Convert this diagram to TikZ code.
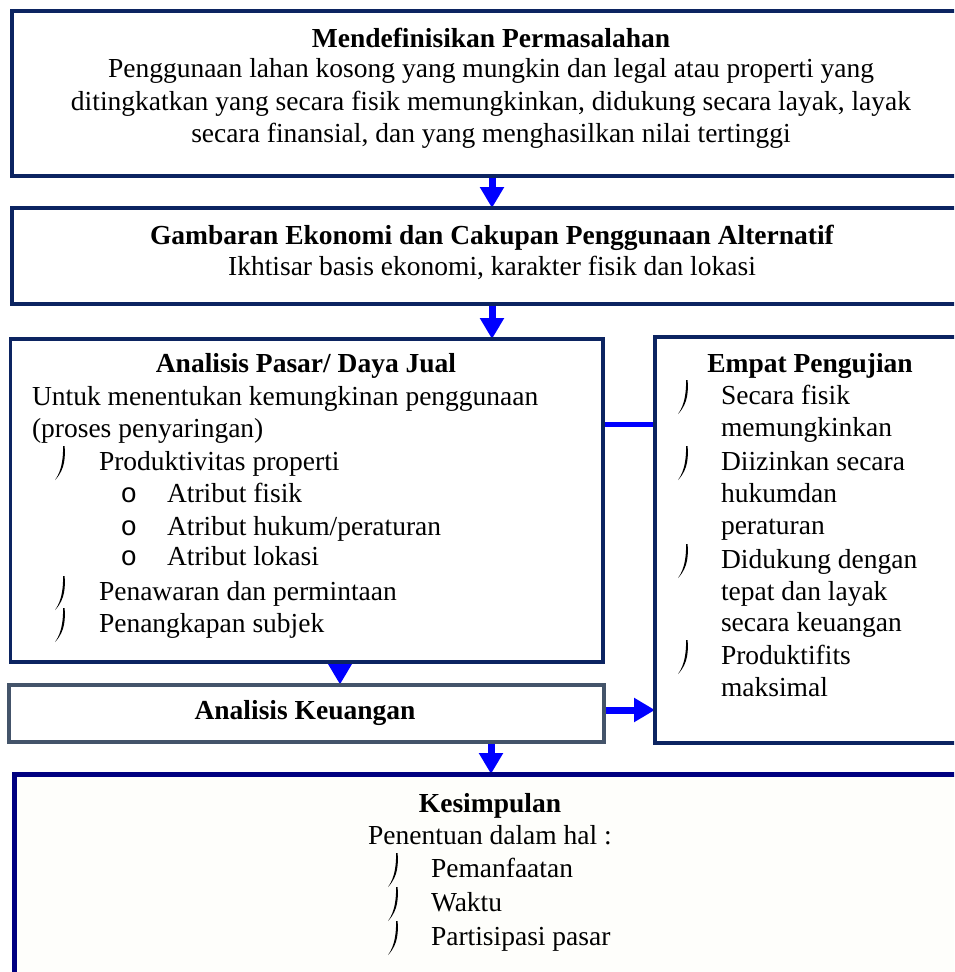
\documentclass[tikz,border=0pt]{standalone}
\usepackage{fontspec}
\setmainfont{Liberation Serif}
\newfontfamily\bulletmono{Liberation Mono}
\usetikzlibrary{arrows.meta,backgrounds}
\definecolor{navy}{RGB}{12,36,97}
\definecolor{slate}{RGB}{68,84,106}
\definecolor{navyk}{RGB}{0,0,128}
\definecolor{arrowblue}{RGB}{0,0,255}
\definecolor{creamfill}{RGB}{254,254,251}
\tikzset{
  boxbase/.style={rectangle, fill=white, inner sep=0pt, outer sep=0pt, anchor=north west},
  nbox/.style={boxbase, draw=navy, line width=4pt},
  nboxthin/.style={boxbase, draw=navy, line width=3.5pt},
  sbox/.style={boxbase, draw=slate, line width=4pt},
  kbox/.style={boxbase, draw=navyk, line width=5pt, fill=creamfill},
  txt/.style={inner sep=0pt, outer sep=0pt, font=\fontsize{27.5}{32.5}\selectfont},
  ctxt/.style={txt, anchor=base},
  ltxt/.style={txt, anchor=base west},
  arr/.style={draw=arrowblue, line width=7pt, -{Triangle[width=23pt,length=21pt]}},
  plainline/.style={draw=arrowblue, line width=5pt},
  hookmk/.pic={\fill[black] (4.6,-17) .. controls (5.2,-8) and (5.8,6) .. (-5,17) .. controls (2.6,7) and (3.2,-8) .. (3.1,-17) -- cycle;}
}
\begin{document}
\begin{tikzpicture}[x=1pt,y=-1pt]
\useasboundingbox (0,0) rectangle (954,972);
\clip (0,0) rectangle (954,972);

% boxes
\node[nbox, minimum width=960pt, minimum height=164.5pt] (b1) at (12,11) {};
\node[nbox, minimum width=960pt, minimum height=96pt] (b2) at (12,208) {};
\node[nboxthin, minimum width=592.5pt, minimum height=323pt] (b3) at (10.5,339) {};
\node[nboxthin, minimum width=312pt, minimum height=406pt] (b4) at (655,337) {};
\node[sbox, minimum width=595pt, minimum height=57pt] (b5) at (9,684.5) {};
\node[kbox, minimum width=954pt, minimum height=240pt] (b6) at (14,774) {};

\coordinate (x340) at (340,0);
\coordinate (x491) at (491,0);
\coordinate (y424) at (0,424);
\coordinate (y710) at (0,710);

% connectors (behind the boxes)
\begin{scope}[on background layer]
\draw[arr] (b1.south) -- (b2.north);
\draw[arr] (b2.south) -- (b2.south |- b3.north);
\draw[plainline] (b3.east |- y424) -- (b4.west |- y424);
\draw[arr] (b3.south -| x340) -- (b5.north -| x340);
\draw[arr] (b5.east |- y710) -- (b4.west |- y710);
\draw[arr] (b5.south -| x491) -- (b6.north -| x491);
\end{scope}

% box 1
\node[ctxt] (t1a) at (491,47.5) {\bfseries Mendefinisikan Permasalahan};
\node[ctxt] (t1b) at (491,77.5) {Penggunaan lahan kosong yang mungkin dan legal atau properti yang};
\node[ctxt] (t1c) at (491,110.5) {ditingkatkan yang secara fisik memungkinkan, didukung secara layak, layak};
\node[ctxt] (t1d) at (491,142.5) {secara finansial, dan yang menghasilkan nilai tertinggi};

% box 2
\node[ctxt] (t2a) at (492,244.5) {\bfseries Gambaran Ekonomi dan Cakupan Penggunaan Alternatif};
\node[ctxt] (t2b) at (492,275.5) {Ikhtisar basis ekonomi, karakter fisik dan lokasi};

% box 3
\node[ctxt] (t3a) at (306,372.5) {\bfseries Analisis Pasar/ Daya Jual};
\node[ltxt] (t3b) at (32,405.5) {Untuk menentukan kemungkinan penggunaan};
\node[ltxt] (t3c) at (32,437.5) {(proses penyaringan)};
\pic at (60,463) {hookmk};
\node[ltxt] (t3d) at (99,470.5) {Produktivitas properti};
\node[ctxt] (o1) at (129,502.5) {\bulletmono o};
\node[ltxt] (t3e) at (167,502.5) {Atribut fisik};
\node[ctxt] (o2) at (129,535.5) {\bulletmono o};
\node[ltxt] (t3f) at (167,535.5) {Atribut hukum/peraturan};
\node[ctxt] (o3) at (129,565.5) {\bulletmono o};
\node[ltxt] (t3g) at (167,565.5) {Atribut lokasi};
\pic at (60,593) {hookmk};
\node[ltxt] (t3h) at (99,600.5) {Penawaran dan permintaan};
\pic at (60,625) {hookmk};
\node[ltxt] (t3i) at (99,632.5) {Penangkapan subjek};

% box 4
\node[ctxt] (t4a) at (810,372.5) {\bfseries Empat Pengujian};
\pic at (683,397) {hookmk};
\node[ltxt] (t4b) at (721,404.5) {Secara fisik};
\node[ltxt] (t4c) at (721,436.5) {memungkinkan};
\pic at (683,463) {hookmk};
\node[ltxt] (t4d) at (721,470.5) {Diizinkan secara};
\node[ltxt] (t4e) at (721,502.5) {hukumdan};
\node[ltxt] (t4f) at (721,534.5) {peraturan};
\pic at (683,561) {hookmk};
\node[ltxt] (t4g) at (721,568.5) {Didukung dengan};
\node[ltxt] (t4h) at (721,600.5) {tepat dan layak};
\node[ltxt] (t4i) at (721,631.5) {secara keuangan};
\pic at (683,657) {hookmk};
\node[ltxt] (t4j) at (721,664.5) {Produktifits};
\node[ltxt] (t4k) at (721,696.5) {maksimal};

% box 5
\node[ctxt] (t5a) at (305,719.5) {\bfseries Analisis Keuangan};

% box 6
\node[ctxt] (t6a) at (490,812.5) {\bfseries Kesimpulan};
\node[ctxt] (t6b) at (490,844.5) {Penentuan dalam hal :};
\pic at (393,870) {hookmk};
\node[ltxt] (t6c) at (431,877.5) {Pemanfaatan};
\pic at (393,904) {hookmk};
\node[ltxt] (t6d) at (431,911.5) {Waktu};
\pic at (393,938) {hookmk};
\node[ltxt] (t6e) at (431,945.5) {Partisipasi pasar};
\end{tikzpicture}
\end{document}
